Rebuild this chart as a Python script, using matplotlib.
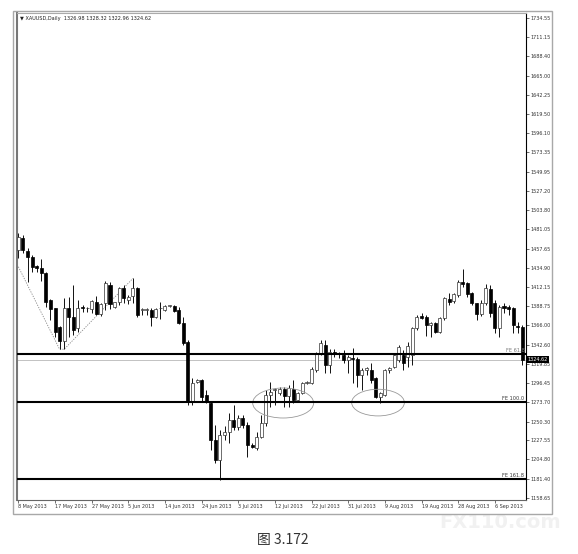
import matplotlib.pyplot as plt
import matplotlib.transforms as mtransforms
from matplotlib.patches import Ellipse, Rectangle
import numpy as np

# daily XAUUSD candles, 8 May 2013 .. 12 Sep 2013
opens = [1456, 1470, 1455, 1448, 1437, 1434, 1429, 1396, 1386, 1364,
         1347, 1387, 1376, 1362, 1388, 1386, 1385, 1394, 1379, 1392,
         1414, 1388, 1394, 1411, 1396, 1401, 1410, 1384, 1384, 1384,
         1376, 1386, 1384, 1389, 1389, 1384, 1368, 1346, 1274, 1298,
         1300, 1282, 1272, 1228, 1204, 1234, 1238, 1252, 1244, 1255,
         1246, 1222, 1218, 1232, 1248, 1282, 1288, 1284, 1289, 1281,
         1289, 1276, 1285, 1297, 1297, 1312, 1332, 1342, 1318, 1334,
         1332, 1330, 1324, 1327, 1325, 1306, 1312, 1312, 1302, 1280,
         1282, 1312, 1316, 1324, 1330, 1328, 1330, 1362, 1377, 1376,
         1366, 1368, 1358, 1374, 1397, 1395, 1402, 1418, 1417, 1404,
         1392, 1379, 1392, 1409, 1392, 1362, 1389, 1388, 1386, 1365,
         1364]
highs = [1477, 1474, 1458, 1450, 1438, 1445, 1430, 1397, 1387, 1365,
         1398, 1400, 1414, 1396, 1390, 1388, 1396, 1401, 1392, 1419,
         1418, 1394, 1412, 1414, 1402, 1422, 1412, 1386, 1386, 1386,
         1386, 1394, 1390, 1390, 1390, 1388, 1376, 1348, 1302, 1301,
         1301, 1288, 1274, 1246, 1240, 1245, 1260, 1270, 1258, 1258,
         1250, 1224, 1238, 1258, 1288, 1298, 1290, 1292, 1292, 1294,
         1300, 1286, 1298, 1299, 1316, 1334, 1348, 1348, 1337, 1337,
         1334, 1336, 1330, 1338, 1328, 1314, 1316, 1321, 1304, 1286,
         1313, 1316, 1332, 1342, 1336, 1346, 1364, 1378, 1380, 1378,
         1370, 1370, 1376, 1400, 1405, 1405, 1420, 1433, 1418, 1406,
         1393, 1396, 1415, 1414, 1396, 1390, 1392, 1390, 1388, 1370,
         1366]
lows = [1447, 1452, 1418, 1430, 1430, 1419, 1388, 1372, 1352, 1337,
        1337, 1352, 1354, 1358, 1382, 1382, 1380, 1378, 1377, 1384,
        1385, 1387, 1390, 1392, 1391, 1392, 1376, 1378, 1378, 1365,
        1374, 1373, 1383, 1388, 1382, 1367, 1342, 1270, 1270, 1296,
        1274, 1272, 1216, 1200, 1180, 1228, 1224, 1240, 1240, 1242,
        1208, 1218, 1216, 1230, 1245, 1268, 1270, 1282, 1268, 1268,
        1272, 1274, 1283, 1295, 1295, 1310, 1330, 1308, 1308, 1328,
        1326, 1320, 1308, 1296, 1292, 1288, 1306, 1296, 1278, 1272,
        1281, 1308, 1314, 1322, 1312, 1316, 1318, 1360, 1373, 1353,
        1352, 1356, 1356, 1372, 1390, 1393, 1400, 1412, 1400, 1390,
        1372, 1377, 1390, 1376, 1357, 1352, 1380, 1378, 1356, 1357,
        1318]
closes = [1472, 1456, 1448, 1436, 1435, 1429, 1394, 1385, 1358, 1347,
          1387, 1376, 1360, 1387, 1386, 1386.5, 1395, 1379, 1391, 1416,
          1391, 1394, 1411, 1398, 1400, 1410, 1378, 1384, 1384.5, 1376,
          1385, 1386, 1389, 1389, 1383, 1368, 1344, 1274, 1296, 1300,
          1280, 1274, 1228, 1204, 1234, 1238, 1252, 1244, 1254, 1246,
          1222, 1220, 1232, 1248, 1282, 1286, 1288.5, 1289, 1281, 1290,
          1276, 1284, 1297, 1298, 1313, 1332, 1344, 1318, 1334, 1331,
          1332.5, 1324, 1328, 1325, 1306, 1312, 1314, 1300, 1280, 1284,
          1312, 1314, 1330, 1340, 1320, 1341, 1362, 1376, 1375, 1366,
          1368, 1358, 1374, 1398, 1394, 1403, 1418, 1415, 1403, 1392,
          1379, 1393, 1410, 1380, 1363, 1388, 1387, 1385, 1366, 1364,
          1324.62]

date_idx = [0, 8, 16, 24, 32, 40, 48, 56, 64, 72, 80, 88, 96, 104]
date_labels = ["8 May 2013", "17 May 2013", "27 May 2013", "5 Jun 2013",
               "14 Jun 2013", "24 Jun 2013", "3 Jul 2013", "12 Jul 2013",
               "22 Jul 2013", "31 Jul 2013", "9 Aug 2013", "19 Aug 2013",
               "28 Aug 2013", "6 Sep 2013"]
price_ticks = [1734.55, 1711.15, 1688.40, 1665.00, 1642.25, 1619.50, 1596.10,
               1573.35, 1549.95, 1527.20, 1503.80, 1481.05, 1457.65, 1434.90,
               1412.15, 1388.75, 1366.00, 1342.60, 1319.85, 1296.45, 1273.70,
               1250.30, 1227.55, 1204.80, 1181.40, 1158.65]

fe_levels = [1330.8, 1273.7, 1181.4]
fe_names = ["FE 61.8", "FE 100.0", "FE 161.8"]
fe_colors = ["#777777", "#333333", "#333333"]
last_price = 1324.62

# zigzag (dotted) and the two marked areas
zz_idx = [0, 9, 10, 25]
zz_val = [1436, 1337, 1337, 1422]
ell_idx = [57.8, 78.5]
ell_val = [1272.5, 1273.0]
ell_w = [13.3, 11.5]
ell_h = [36, 32]

fig = plt.figure(figsize=(5.78, 5.54), dpi=100)
W, H = 578, 554
ax = fig.add_axes([17 / W, 1 - 500 / H, (526 - 17) / W, (500 - 13) / H])

# window frame
fig.patches.append(Rectangle((13 / W, 1 - 514 / H), (552 - 13) / W, (514 - 11) / H,
                             transform=fig.transFigure, fill=False,
                             edgecolor="#a8a8a8", lw=1.0, zorder=0))

o = np.array(opens); h = np.array(highs); l = np.array(lows); c = np.array(closes)
x = np.arange(len(o))
up = c >= o

ax.vlines(x, l, h, color="black", lw=0.65, zorder=2)
body_lo = np.minimum(o, c)
body_h = np.maximum(np.abs(c - o), 0.9)
ax.bar(x[up], body_h[up], bottom=body_lo[up], width=0.66, color="white",
       edgecolor="#333333", linewidth=0.5, zorder=3)
ax.bar(x[~up], body_h[~up], bottom=body_lo[~up], width=0.66, color="black",
       edgecolor="black", linewidth=0.5, zorder=3)

ax.plot(zz_idx, zz_val, ls=(0, (1.5, 1.5)), color="#888888", lw=0.6, zorder=1)

for cx, cy, ew, eh in zip(ell_idx, ell_val, ell_w, ell_h):
    ax.add_patch(Ellipse((cx, cy), ew, eh, fill=False, edgecolor="#999999", lw=0.6, zorder=4))

blend = mtransforms.blended_transform_factory(ax.transAxes, ax.transData)
ax.axhline(last_price, color="#b8b8b8", lw=0.6, zorder=1)
for lev, name, col in zip(fe_levels, fe_names, fe_colors):
    ax.axhline(lev, color="black", lw=1.5, zorder=5)
    ax.text(0.997, lev + 1.5, name, transform=blend, ha="right", va="bottom",
            fontsize=3.6, color=col, zorder=6)

ax.set_xlim(-0.3, 110.8)
ax.set_ylim(1156.1, 1740.5)

ax.yaxis.tick_right()
ax.set_yticks(price_ticks)
ax.set_yticklabels([f"{v:.2f}" for v in price_ticks])
ax.set_xticks(date_idx)
ax.set_xticklabels(date_labels)
for lab in ax.get_xticklabels():
    lab.set_ha("left")
ax.tick_params(axis="both", labelsize=3.5, length=2, width=0.5, pad=1.2, colors="#333333")

ax.text(1.003, last_price, "1324.62", transform=blend, ha="left", va="center",
        fontsize=3.5, color="white", zorder=7, clip_on=False,
        bbox=dict(facecolor="black", edgecolor="none", pad=0.8))

ax.text(0.006, 0.993, "\u25BC XAUUSD,Daily  1326.98 1328.32 1322.96 1324.62",
        transform=ax.transAxes, ha="left", va="top", fontsize=3.6, color="#222222")

ax.spines["left"].set_color("#777777")
ax.spines["left"].set_linewidth(1.5)
ax.spines["top"].set_color("#aaaaaa")
ax.spines["top"].set_linewidth(0.8)
ax.spines["bottom"].set_color("#666666")
ax.spines["bottom"].set_linewidth(0.8)
ax.spines["right"].set_color("black")
ax.spines["right"].set_linewidth(0.8)

fig.text(0.865, 1 - 522 / H, "FX110.com", fontsize=14, color="#f1f1f1",
         ha="center", va="center", weight="bold", zorder=-1)
fig.text(283 / W, 1 - 540 / H, "图 3.172", ha="center", va="center", fontsize=10,
         color="#333333", family=["Noto Sans CJK SC", "DejaVu Sans"])

fig.savefig("out.png", dpi=100)
plt.close(fig)
